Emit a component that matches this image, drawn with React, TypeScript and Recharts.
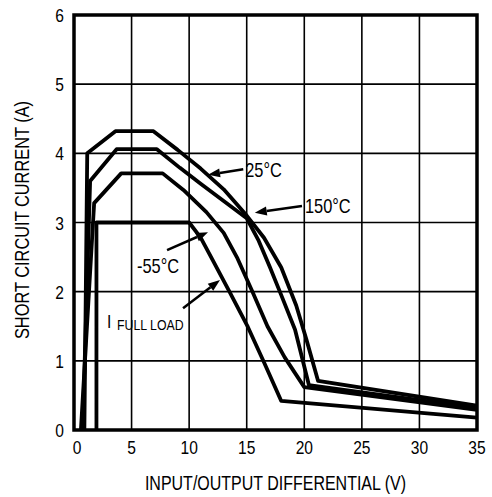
import React from "react";
import { LineChart, Line, XAxis, YAxis, CartesianGrid, ReferenceArea, ReferenceLine } from "recharts";

const xTicks = [0, 5, 10, 15, 20, 25, 30, 35];
const yTicks = [0, 1, 2, 3, 4, 5, 6];

// 25°C (top curve)
const curve25V = [0.9, 1.15, 3.6, 6.9, 9, 11, 13, 15, 16.5, 18, 19.3, 20.2, 21.2, 35];
const curve25A = [0, 4.0, 4.32, 4.32, 4.05, 3.78, 3.48, 3.1, 2.78, 2.35, 1.8, 1.3, 0.71, 0.35];

// 150°C
const curve150V = [0.75, 1.4, 3.7, 7.2, 9.2, 11, 13, 15, 16, 17, 18, 19.2, 20.4, 35];
const curve150A = [0, 3.6, 4.06, 4.06, 3.79, 3.56, 3.31, 3.06, 2.75, 2.36, 1.95, 1.45, 0.65, 0.32];

// -55°C
const curveM55V = [0.6, 1.75, 4.1, 7.7, 9.5, 11.5, 13, 14.2, 15.5, 16.8, 18.3, 20.0, 35];
const curveM55A = [0, 3.28, 3.71, 3.71, 3.47, 3.15, 2.85, 2.48, 2.0, 1.5, 1.05, 0.62, 0.29];

// I full load
const fullLoadV = [1.95, 1.95, 10.0, 11, 12, 13.5, 15.1, 16.5, 18.0, 35];
const fullLoadA = [0, 3.0, 3.0, 2.78, 2.47, 2.0, 1.49, 0.98, 0.42, 0.18];

const zip = (vs: number[], as: number[]) => vs.map((v, i) => ({ v, a: as[i] }));

const FONT = "'Liberation Sans', Arial, sans-serif";
const SX = 0.82; // narrow look

// text squeezed horizontally, like a condensed face
function Narrow({ x, y, size, anchor = "start", rotate = 0, children }: any) {
  return (
    <g transform={`translate(${x},${y}) rotate(${rotate}) scale(${SX},1)`}>
      <text x={0} y={0} textAnchor={anchor} fontFamily={FONT} fontSize={size} fill="#000">
        {children}
      </text>
    </g>
  );
}

function Arrow(props: any) {
  const { x1, y1, x2, y2, text, dx, dy, sub } = props;
  const len = Math.hypot(x2 - x1, y2 - y1);
  const ux = (x2 - x1) / len;
  const uy = (y2 - y1) / len;
  const L = 12;
  const W = 4.5;
  const bx = x2 - ux * L;
  const by = y2 - uy * L;
  const pts = `${x2},${y2} ${bx - uy * W},${by + ux * W} ${bx + uy * W},${by - ux * W}`;
  return (
    <g>
      <line x1={x1} y1={y1} x2={bx} y2={by} stroke="#000" strokeWidth={2.5} />
      <polygon points={pts} fill="#000" />
      <Narrow x={x1 + dx} y={y1 + dy} size={sub ? 19 : 20}>{text}</Narrow>
      {sub ? <Narrow x={x1 + dx + 10} y={y1 + dy + 2} size={15}>{sub}</Narrow> : null}
    </g>
  );
}

export default function App() {
  return (
    <div style={{ position: "absolute", left: 0, top: 0, width: 492, height: 497, background: "#fff" }}>
      <LineChart width={492} height={497} margin={{ top: 15, right: 15, bottom: 0, left: 0 }}>
        <CartesianGrid stroke="#000" strokeWidth={1.6} />
        <XAxis
          type="number"
          dataKey="v"
          domain={[0, 35]}
          ticks={xTicks}
          allowDataOverflow
          height={67}
          axisLine={false}
          tickLine={false}
          tickSize={0}
          tickMargin={11}
          tick={(p: any) => (
            <Narrow x={p.x + (p.payload.value === 0 ? 3 : 0)} y={p.y + 13} size={19} anchor="middle">{p.payload.value}</Narrow>
          )}
          label={{
            content: ({ viewBox }: any) => (
              <Narrow x={viewBox.x + viewBox.width / 2} y={viewBox.y + 60} size={19.5} anchor="middle">
                INPUT/OUTPUT DIFFERENTIAL (V)
              </Narrow>
            ),
          }}
        />
        <YAxis
          type="number"
          dataKey="a"
          domain={[0, 6]}
          ticks={yTicks}
          allowDataOverflow
          width={74}
          axisLine={false}
          tickLine={false}
          tickSize={0}
          tickMargin={10}
          tick={(p: any) => (
            <Narrow x={p.x} y={p.y + 7} size={19} anchor="end">{p.payload.value}</Narrow>
          )}
          label={{
            content: () => (
              <Narrow x={29} y={220} size={20} anchor="middle" rotate={-90}>
                SHORT CIRCUIT CURRENT (A)
              </Narrow>
            ),
          }}
        />
        <ReferenceArea x1={0} x2={35} y1={0} y2={6} fill="none" fillOpacity={0} stroke="#000" strokeWidth={3.5} />
        <Line data={zip(curve25V, curve25A)} dataKey="a" type="linear" stroke="#000" strokeWidth={3.8} dot={false} isAnimationActive={false} strokeLinejoin="round" />
        <Line data={zip(curve150V, curve150A)} dataKey="a" type="linear" stroke="#000" strokeWidth={3.8} dot={false} isAnimationActive={false} strokeLinejoin="round" />
        <Line data={zip(curveM55V, curveM55A)} dataKey="a" type="linear" stroke="#000" strokeWidth={3.8} dot={false} isAnimationActive={false} strokeLinejoin="round" />
        <Line data={zip(fullLoadV, fullLoadA)} dataKey="a" type="linear" stroke="#000" strokeWidth={3.8} dot={false} isAnimationActive={false} strokeLinejoin="round" />
        <ReferenceLine
          segment={[{ x: 14.7, y: 3.77 }, { x: 11.64, y: 3.69 }]}
          shape={(p: any) => <Arrow {...p} text="25°C" dx={2} dy={8} />}
        />
        <ReferenceLine
          segment={[{ x: 19.8, y: 3.24 }, { x: 15.7, y: 3.14 }]}
          shape={(p: any) => <Arrow {...p} text="150°C" dx={3} dy={7} />}
        />
        <ReferenceLine
          segment={[{ x: 8.08, y: 2.6 }, { x: 11.64, y: 2.86 }]}
          shape={(p: any) => <Arrow {...p} text="-55°C" dx={-30} dy={23} />}
        />
        <ReferenceLine
          segment={[{ x: 9.47, y: 1.76 }, { x: 12.68, y: 2.17 }]}
          shape={(p: any) => <Arrow {...p} text="I" dx={-76} dy={20} sub="FULL LOAD" />}
        />
      </LineChart>
    </div>
  );
}
